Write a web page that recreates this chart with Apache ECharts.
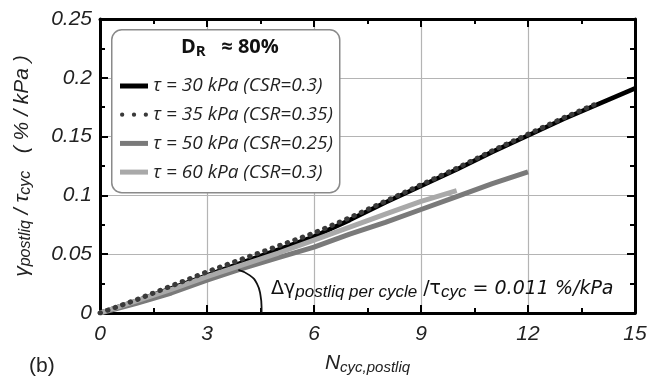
<!DOCTYPE html>
<html>
<head>
<meta charset="utf-8">
<script src="https://cdn.jsdelivr.net/npm/echarts@6/dist/echarts.min.js"></script>
<style>
html,body{margin:0;padding:0;background:#fff;}
#c{width:657px;height:385px;}
</style>
</head>
<body>
<div id="c"></div>
<script>
// ---- data ----
var cycles = [0,1,2,3,4,5,6,7,8,9,10,11,12,13,14,15];
var tau30 = [0,0.010,0.021,0.032,0.043,0.054,0.065,0.079,0.094,0.108,0.122,0.137,0.151,0.165,0.178,0.191];
var tau35 = [0,0.011,0.023,0.035,0.046,0.057,0.068,0.081,0.095,0.109,0.123,0.138,0.152,0.166,0.179];
var tau50 = [0,0.008,0.017,0.028,0.038,0.047,0.056,0.067,0.077,0.088,0.099,0.110,0.120];
var tau60 = [0,0.010,0.020,0.031,0.041,0.051,0.062,0.073,0.084,0.095,0.104];
var seriesNames = ['τ = 30 kPa (CSR=0.3)','τ = 35 kPa (CSR=0.35)','τ = 50 kPa (CSR=0.25)','τ = 60 kPa (CSR=0.3)'];
var xTicks = [0,3,6,9,12,15];
var yTicks = [0,0.05,0.1,0.15,0.2,0.25];
// angle annotation arc (x, y)
var arcX = [3.88,4.2,4.4,4.5,4.53,4.53];
var arcY = [0.0366,0.032,0.025,0.015,0.005,0];

function pairs(xs, ys){ return ys.map(function(v,i){ return [xs[i], v]; }); }

var chart = echarts.init(document.getElementById('c'), null, {renderer:'canvas'});
var sans = 'Liberation Sans, Arial, sans-serif';
var wide = 'DejaVu Sans, sans-serif';
var axisCommon = {
  min: 0,
  axisLine: {show:true, onZero:false, lineStyle:{color:'#000', width:3}},
  axisTick: {show:true, inside:true, length:8, lineStyle:{color:'#000', width:2}},
  minorTick: {show:true, splitNumber:2, length:5, lineStyle:{color:'#000', width:2}}
};
var dotIcon = 'path://M0.5,2.5a2,2 0 1,0 4,0a2,2 0 1,0 -4,0Z M11.5,2.5a2,2 0 1,0 4,0a2,2 0 1,0 -4,0Z M22.5,2.5a2,2 0 1,0 4,0a2,2 0 1,0 -4,0Z';

var option = {
  animation: false,
  backgroundColor: '#fff',
  grid: {left:100, right:22, top:19, bottom:72, containLabel:false},
  xAxis: [
    Object.assign({}, axisCommon, {
      type:'value', max:15, interval:3, position:'bottom',
      name: '{n|N}{s|cyc,postliq}',
      nameLocation:'middle', nameGap:31,
      nameTextStyle:{rich:{
        n:{fontFamily:sans, fontStyle:'italic', fontSize:21, color:'#222', lineHeight:24},
        s:{fontFamily:sans, fontStyle:'italic', fontSize:15, color:'#222', verticalAlign:'bottom', lineHeight:15, padding:[10,0,0,0]}
      }},
      axisLabel:{fontFamily:sans, fontStyle:'italic', fontSize:21, color:'#222', margin:11},
      splitLine:{show:true, lineStyle:{color:'#b4b4b4', width:1.2}}
    }),
    Object.assign({}, axisCommon, {
      type:'value', max:15, interval:3, position:'top',
      axisLabel:{show:false}, splitLine:{show:false}
    })
  ],
  yAxis: [
    Object.assign({}, axisCommon, {
      type:'value', max:0.25, interval:0.05, position:'left',
      name: '{g|γ}{s|postliq}{g| / τ}{s|cyc}{g|   ( % / kPa )}',
      nameLocation:'middle', nameGap:66, nameRotate:90,
      nameTextStyle:{rich:{
        g:{fontFamily:sans, fontStyle:'italic', fontSize:21, color:'#222', lineHeight:24},
        s:{fontFamily:sans, fontStyle:'italic', fontSize:16, color:'#222', verticalAlign:'bottom', lineHeight:16, padding:[10,0,0,0]}
      }},
      axisLabel:{fontFamily:sans, fontStyle:'italic', fontSize:21, color:'#222', margin:8},
      splitLine:{show:true, lineStyle:{color:'#b4b4b4', width:1.2}}
    }),
    Object.assign({}, axisCommon, {
      type:'value', max:0.25, interval:0.05, position:'right',
      axisLabel:{show:false}, splitLine:{show:false}
    })
  ],
  legend: {
    orient:'vertical', left:115, top:70, z:10,
    itemWidth:28, itemHeight:5, itemGap:6.7, symbolKeepAspect:true,
    textStyle:{fontFamily:'Open Sans', fontStyle:'italic', fontSize:19, color:'#222', lineHeight:22},
    data:[
      {name:seriesNames[0], icon:'rect'},
      {name:seriesNames[1], icon:dotIcon},
      {name:seriesNames[2], icon:'rect'},
      {name:seriesNames[3], icon:'rect'}
    ]
  },
  graphic: [
    {type:'rect', left:111, top:29, z:5, shape:{width:228, height:163, r:10},
     style:{fill:'#fff', stroke:'#8a8a8a', lineWidth:1.5}},
    {type:'text', x:181, y:35, z:11,
     style:{text:'{b|D}{r|R}{b|   ≈ 80%}', align:'left', verticalAlign:'top', rich:{
       b:{fontFamily:'Open Sans', fontWeight:'bold', fontSize:20, fill:'#111', lineHeight:24},
       r:{fontFamily:'Open Sans', fontWeight:'bold', fontSize:15, fill:'#111', verticalAlign:'bottom', lineHeight:15, padding:[12,0,0,0]}
     }}},
    {type:'text', left:271, top:275, z:11,
     style:{text:'{m|Δγ}{s|postliq per cycle}{m| /τ}{s|cyc}{i| = 0.011 %/kPa}', rich:{
       m:{fontFamily:wide, fontSize:19, fill:'#111', lineHeight:23},
       i:{fontFamily:wide, fontStyle:'italic', fontSize:19, fill:'#111', lineHeight:23},
       s:{fontFamily:sans, fontStyle:'italic', fontSize:17, fill:'#111', verticalAlign:'bottom', lineHeight:17, padding:[9,0,0,0]}
     }}},
    {type:'text', left:29, top:356, z:11,
     style:{text:'(b)', fontFamily:sans, fontSize:21, fill:'#222'}}
  ],
  series: [
    {name:seriesNames[0], type:'line', data:pairs(cycles, tau30), showSymbol:false, symbol:'none',
     lineStyle:{color:'#000', width:4.5}, itemStyle:{color:'#000'}, z:3},
    {name:seriesNames[1], type:'line', data:pairs(cycles, tau35), showSymbol:false, symbol:'none',
     lineStyle:{color:'#3a3a3a', width:5, type:[0.5,7.5], cap:'round'}, itemStyle:{color:'#3a3a3a'}, z:4},
    {name:seriesNames[2], type:'line', data:pairs(cycles, tau50), showSymbol:false, symbol:'none',
     lineStyle:{color:'#7a7a7a', width:5}, itemStyle:{color:'#7a7a7a'}, z:3},
    {name:seriesNames[3], type:'line', data:pairs(cycles, tau60), showSymbol:false, symbol:'none',
     lineStyle:{color:'#a9a9a9', width:5}, itemStyle:{color:'#a9a9a9'}, z:3},
    {name:'arc', type:'line', data:pairs(arcX, arcY), smooth:true, showSymbol:false, symbol:'none',
     lineStyle:{color:'#111', width:1.8}, z:3, legendHoverLink:false}
  ]
};
chart.setOption(option);
</script>
</body>
</html>
